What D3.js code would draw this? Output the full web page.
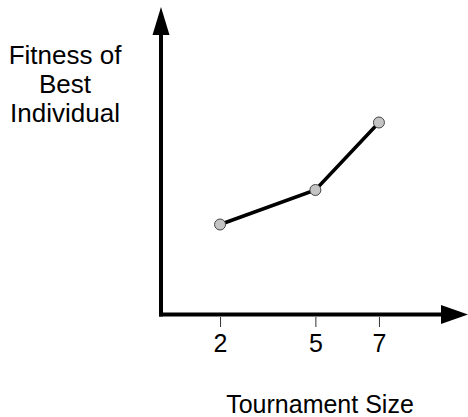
<!DOCTYPE html>
<html>
<head>
<meta charset="utf-8">
<script src="https://cdn.jsdelivr.net/npm/d3@7"></script>
<style>
  html, body { margin: 0; padding: 0; background: #fff; }
  svg { display: block; }
  text { font-family: "Liberation Sans", Arial, sans-serif; fill: #000; }
</style>
</head>
<body>
<svg id="chart" width="468" height="417"></svg>
<script>
// Data
const tournamentSizes = [2, 5, 7];
const fitnessValues = [3.0, 4.15, 6.4];
const xTickLabels = ["2", "5", "7"];
const yLabelLines = ["Fitness of", "Best", "Individual"];
const xLabel = "Tournament Size";

const svg = d3.select("#chart");
const originX = 161, originY = 314.5;

const x = d3.scaleLinear().domain([0, 9]).range([156.5, 442.5]);
const y = d3.scaleLinear().domain([0, 10]).range([originY, 14.5]);

// Axes lines
svg.append("line")
  .attr("x1", originX).attr("y1", originY + 2)
  .attr("x2", originX).attr("y2", 30)
  .attr("stroke", "#000").attr("stroke-width", 4);
svg.append("line")
  .attr("x1", originX - 2).attr("y1", originY)
  .attr("x2", 445).attr("y2", originY)
  .attr("stroke", "#000").attr("stroke-width", 4);

// Arrowheads
svg.append("path")
  .attr("d", `M${originX},7 L${originX + 8.5},35 L${originX - 8.5},35 Z`)
  .attr("fill", "#000");
svg.append("path")
  .attr("d", `M468,${originY} L441,${originY - 9.5} L441,${originY + 9.5} Z`)
  .attr("fill", "#000");

// Ticks
const axis = d3.axisBottom(x)
  .tickValues(tournamentSizes)
  .tickFormat((d, i) => xTickLabels[i])
  .tickSize(10)
  .tickPadding(7);
const gx = svg.append("g")
  .attr("transform", `translate(0,${originY + 2.5})`)
  .call(axis);
gx.select(".domain").remove();
gx.selectAll(".tick line").attr("stroke", "#333").attr("stroke-width", 1);
gx.selectAll(".tick text")
  .style("font-family", '"Liberation Sans", Arial, sans-serif')
  .style("font-size", "25px")
  .attr("fill", "#000");

// Line
const pts = tournamentSizes.map((d, i) => [d, fitnessValues[i]]);
svg.append("path")
  .datum(pts)
  .attr("fill", "none")
  .attr("stroke", "#000")
  .attr("stroke-width", 3.5)
  .attr("d", d3.line().x(d => x(d[0])).y(d => y(d[1])));

svg.selectAll("circle.pt")
  .data(pts)
  .enter().append("circle")
  .attr("class", "pt")
  .attr("cx", d => x(d[0]))
  .attr("cy", d => y(d[1]))
  .attr("r", 5.5)
  .attr("fill", "#c4c4c4")
  .attr("stroke", "#444")
  .attr("stroke-width", 1);

// Y label
const yl = svg.append("text")
  .attr("text-anchor", "middle")
  .style("font-size", "26px");
yLabelLines.forEach((t, i) => {
  yl.append("tspan").attr("x", 65).attr("y", 64 + i * 29).text(t);
});

// X label
svg.append("text")
  .attr("x", 320).attr("y", 413)
  .attr("text-anchor", "middle")
  .style("font-size", "25px")
  .text(xLabel);
</script>
</body>
</html>
